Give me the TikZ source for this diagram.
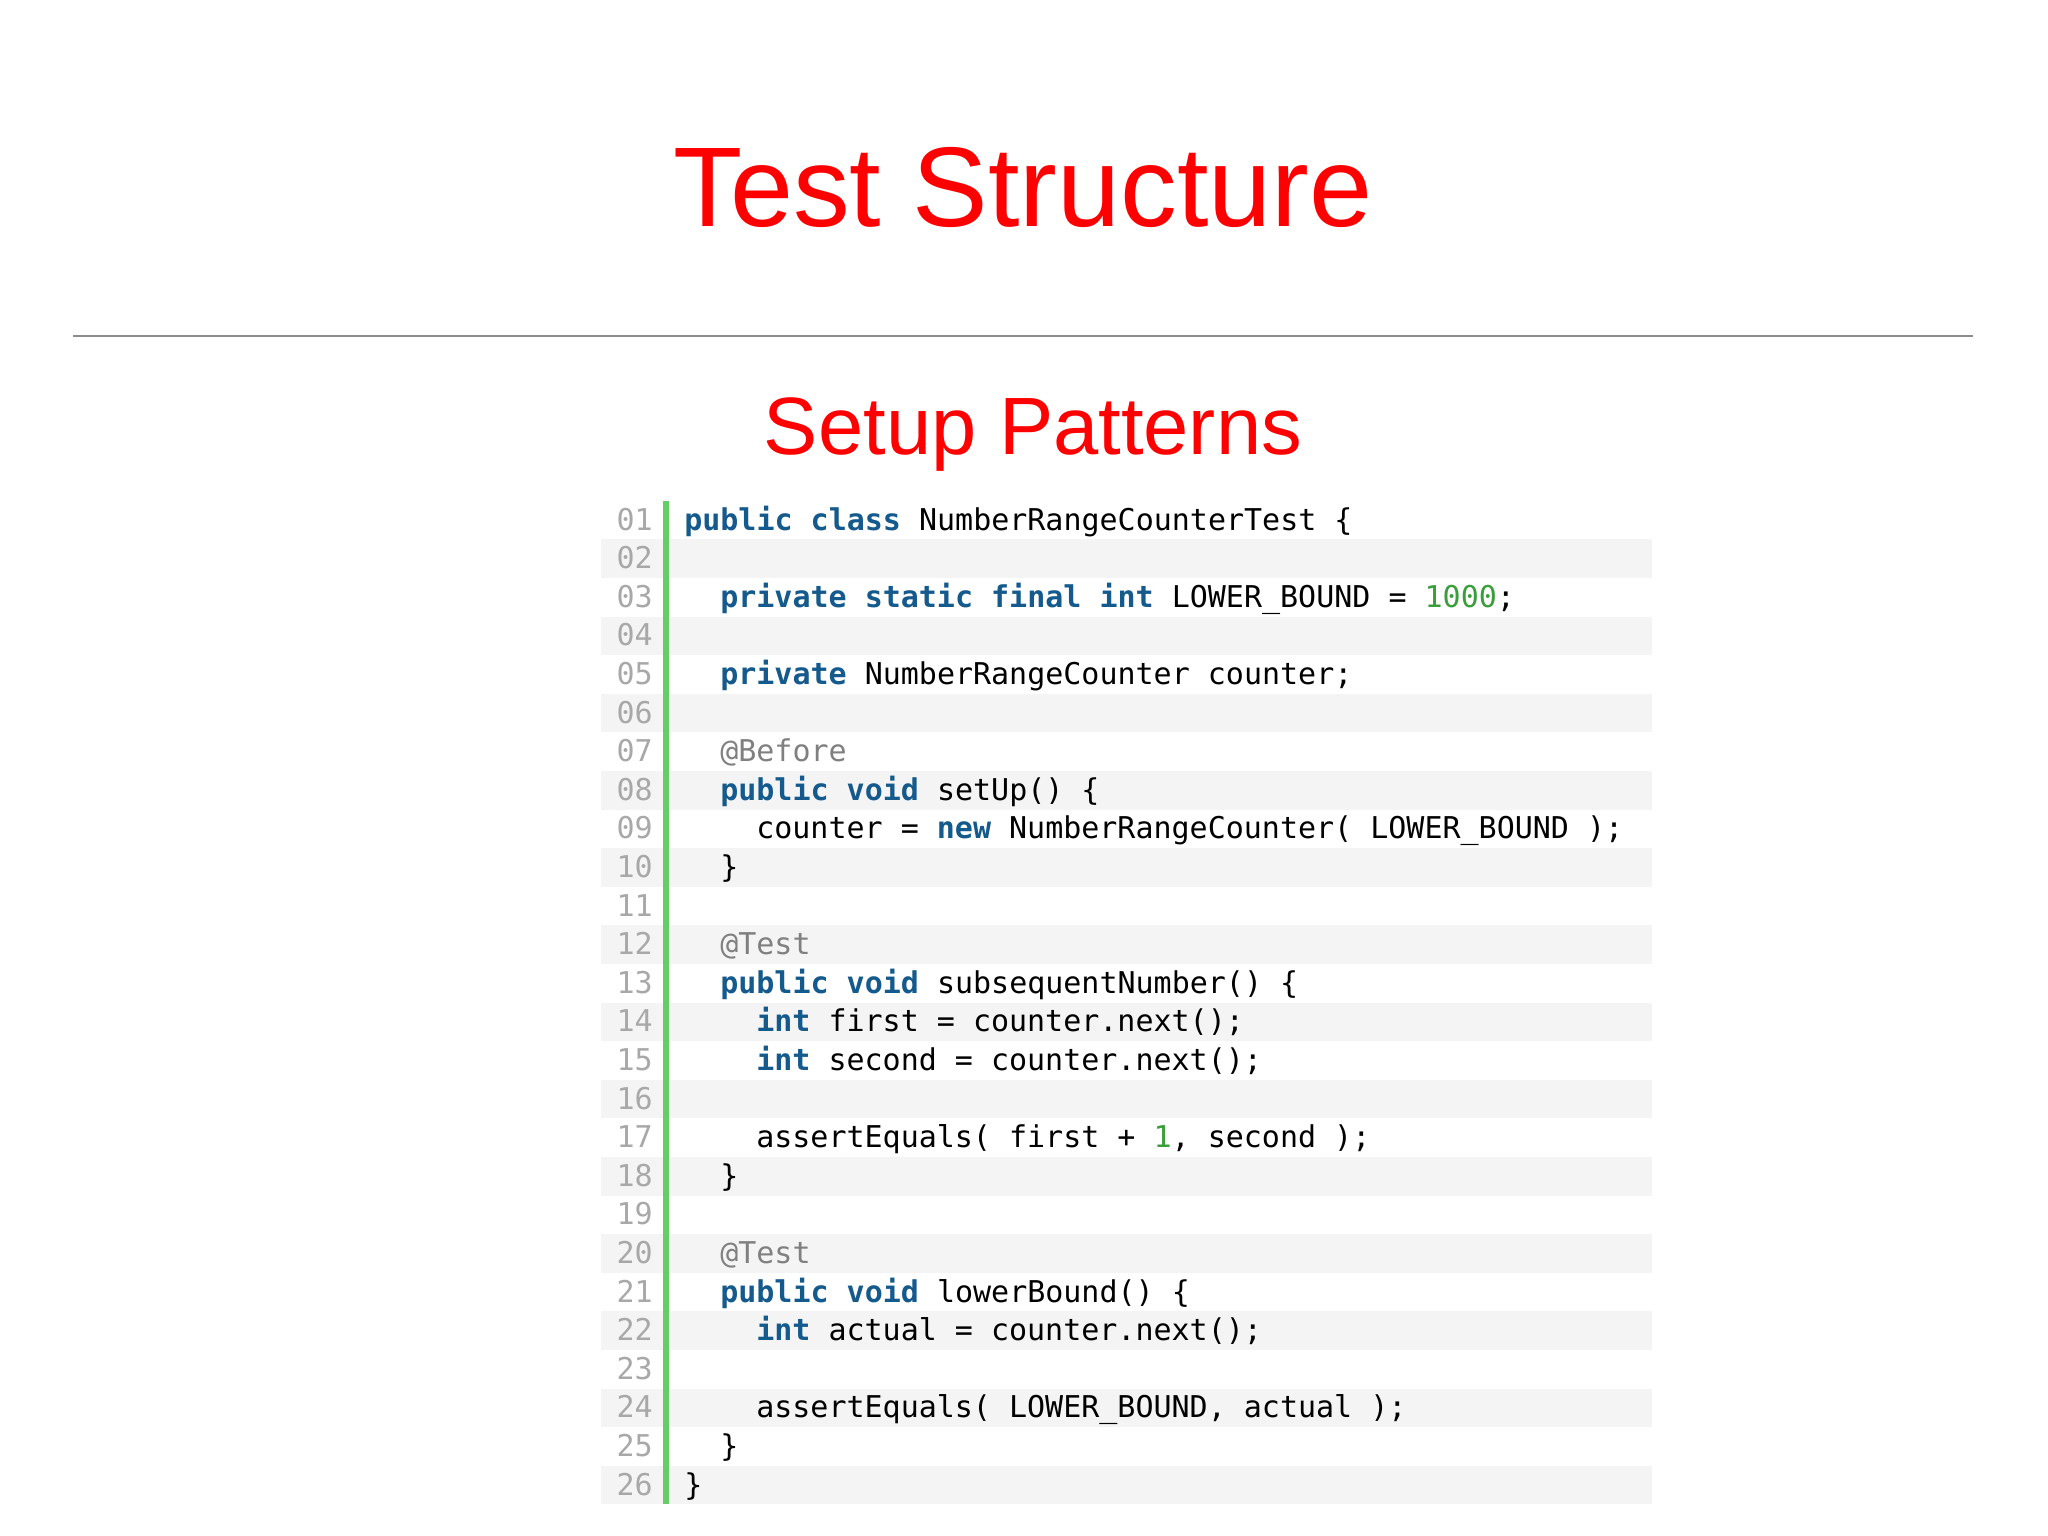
\documentclass[tikz,border=0pt]{standalone}
\usepackage{fontspec}
\setmainfont{Liberation Sans}
\newfontfamily\codef{DejaVu Sans Mono}
\definecolor{kwc}{HTML}{145A8C}
\definecolor{nmc}{HTML}{3A9E3A}
\definecolor{anc}{HTML}{808080}
\definecolor{lnc}{HTML}{A8A8A8}
\definecolor{rowc}{HTML}{F4F4F4}
\definecolor{barc}{HTML}{66CC66}
\newcommand\kw[1]{\textcolor{kwc}{\bfseries #1}}
\newcommand\nm[1]{\textcolor{nmc}{#1}}
\newcommand\an[1]{\textcolor{anc}{#1}}
\tikzset{
  code/.style={anchor=base west,inner sep=0pt,font=\codef\fontsize{22.5pt}{27pt}\selectfont},
  lnum/.style={anchor=base east,inner sep=0pt,text=lnc,font=\codef\fontsize{22.5pt}{27pt}\selectfont},
  title/.style={text=red,inner sep=0pt}
}
\newcommand\cl[3]{%
  \pgfmathsetmacro\yy{520+(#1-1)*38.6}%
  \ifodd#1\else\fill[rowc] (601,\yy-19.3) rectangle (1652,\yy+19.3);\fi
  \node[lnum] (n#1) at (653,\yy+10) {\ifnum#1<10 0\fi#1};
  \node[code] (c#1) at (684+18*#2,\yy+10) {#3};
}
\begin{document}
\begin{tikzpicture}[x=0.75pt,y=-0.75pt]
\useasboundingbox (0,0) rectangle (2048,1535);
\fill[white] (0,0) rectangle (2048,1535);
\node[title,font=\fontsize{85pt}{90pt}\selectfont] (t) at (1023,187) {Test Structure};
\draw[color=black!45,line width=1pt] (73,336) -- (1973,336);
\node[title,font=\fontsize{61pt}{70pt}\selectfont] (s) at (1033,435) {Setup Patterns};
\cl{1}{0}{\kw{public class} NumberRangeCounterTest \{}
\cl{2}{0}{}
\cl{3}{2}{\kw{private static final int} LOWER\_BOUND = \nm{1000};}
\cl{4}{0}{}
\cl{5}{2}{\kw{private} NumberRangeCounter counter;}
\cl{6}{0}{}
\cl{7}{2}{\an{@Before}}
\cl{8}{2}{\kw{public void} setUp() \{}
\cl{9}{4}{counter = \kw{new} NumberRangeCounter( LOWER\_BOUND );}
\cl{10}{2}{\}}
\cl{11}{0}{}
\cl{12}{2}{\an{@Test}}
\cl{13}{2}{\kw{public void} subsequentNumber() \{}
\cl{14}{4}{\kw{int} first = counter.next();}
\cl{15}{4}{\kw{int} second = counter.next();}
\cl{16}{0}{}
\cl{17}{4}{assertEquals( first + \nm{1}, second );}
\cl{18}{2}{\}}
\cl{19}{0}{}
\cl{20}{2}{\an{@Test}}
\cl{21}{2}{\kw{public void} lowerBound() \{}
\cl{22}{4}{\kw{int} actual = counter.next();}
\cl{23}{0}{}
\cl{24}{4}{assertEquals( LOWER\_BOUND, actual );}
\cl{25}{2}{\}}
\cl{26}{0}{\}}
\fill[barc] (663,501) rectangle (669,1504);
\end{tikzpicture}
\end{document}
